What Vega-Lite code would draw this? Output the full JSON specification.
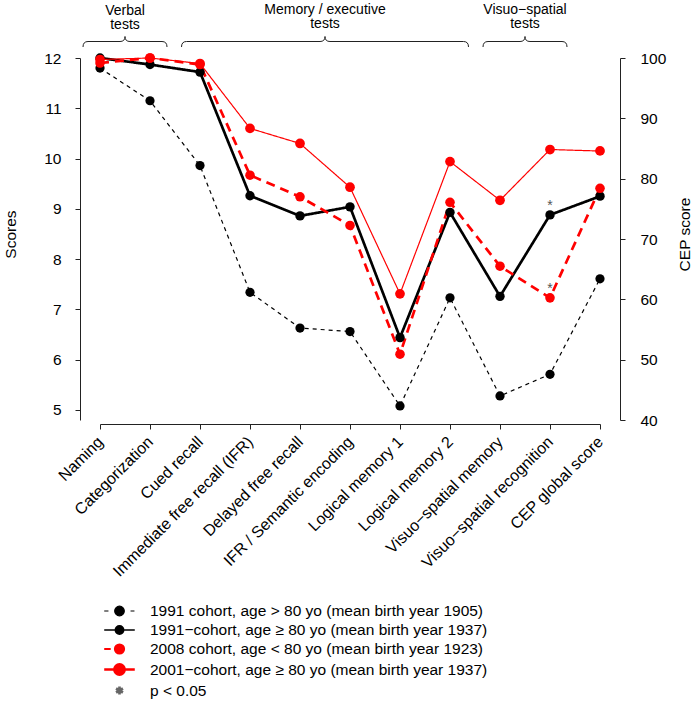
{
  "$schema": "https://vega.github.io/schema/vega-lite/v6.json",
  "width": 500,
  "height": 362,
  "autosize": {"type": "none"},
  "padding": {"left": 100, "top": 58, "right": 96, "bottom": 285},
  "config": {
    "font": "Liberation Sans",
    "view": {"stroke": null},
    "axis": {
      "grid": false, "domainColor": "#222", "tickColor": "#222", "labelColor": "#000", "titleColor": "#000",
      "labelFontSize": 15.5, "titleFontSize": 15.5, "titleFontWeight": "normal", "tickSize": 5,
      "domainWidth": 1, "tickWidth": 1, "labelFont": "Liberation Sans", "titleFont": "Liberation Sans"
    },
    "legend": {
      "orient": "none", "legendX": 10, "legendY": 544, "direction": "vertical",
      "symbolSize": 256, "labelFontSize": 15.5, "labelFont": "Liberation Sans", "labelColor": "#000",
      "labelOffset": 21, "rowPadding": 1, "padding": 0, "labelLimit": 600, "symbolOpacity": 1
    }
  },
  "datasets": {
    "scores": [
      {"test": "Naming", "series": "1991 cohort, age > 80 yo (mean birth year 1905)", "score": 11.80},
      {"test": "Categorization", "series": "1991 cohort, age > 80 yo (mean birth year 1905)", "score": 11.15},
      {"test": "Cued recall", "series": "1991 cohort, age > 80 yo (mean birth year 1905)", "score": 9.86},
      {"test": "Immediate free recall (IFR)", "series": "1991 cohort, age > 80 yo (mean birth year 1905)", "score": 7.34},
      {"test": "Delayed free recall", "series": "1991 cohort, age > 80 yo (mean birth year 1905)", "score": 6.63},
      {"test": "IFR / Semantic encoding", "series": "1991 cohort, age > 80 yo (mean birth year 1905)", "score": 6.56},
      {"test": "Logical memory 1", "series": "1991 cohort, age > 80 yo (mean birth year 1905)", "score": 5.08},
      {"test": "Logical memory 2", "series": "1991 cohort, age > 80 yo (mean birth year 1905)", "score": 7.23},
      {"test": "Visuo−spatial memory", "series": "1991 cohort, age > 80 yo (mean birth year 1905)", "score": 5.28},
      {"test": "Visuo−spatial recognition", "series": "1991 cohort, age > 80 yo (mean birth year 1905)", "score": 5.71},
      {"test": "CEP global score", "series": "1991 cohort, age > 80 yo (mean birth year 1905)", "score": 7.61, "cep": 63.4},

      {"test": "Naming", "series": "1991−cohort, age ≥ 80 yo (mean birth year 1937)", "score": 12.00},
      {"test": "Categorization", "series": "1991−cohort, age ≥ 80 yo (mean birth year 1937)", "score": 11.87},
      {"test": "Cued recall", "series": "1991−cohort, age ≥ 80 yo (mean birth year 1937)", "score": 11.72},
      {"test": "Immediate free recall (IFR)", "series": "1991−cohort, age ≥ 80 yo (mean birth year 1937)", "score": 9.26},
      {"test": "Delayed free recall", "series": "1991−cohort, age ≥ 80 yo (mean birth year 1937)", "score": 8.86},
      {"test": "IFR / Semantic encoding", "series": "1991−cohort, age ≥ 80 yo (mean birth year 1937)", "score": 9.04},
      {"test": "Logical memory 1", "series": "1991−cohort, age ≥ 80 yo (mean birth year 1937)", "score": 6.44},
      {"test": "Logical memory 2", "series": "1991−cohort, age ≥ 80 yo (mean birth year 1937)", "score": 8.93},
      {"test": "Visuo−spatial memory", "series": "1991−cohort, age ≥ 80 yo (mean birth year 1937)", "score": 7.26},
      {"test": "Visuo−spatial recognition", "series": "1991−cohort, age ≥ 80 yo (mean birth year 1937)", "score": 8.88},
      {"test": "CEP global score", "series": "1991−cohort, age ≥ 80 yo (mean birth year 1937)", "score": 9.25, "cep": 77.1},

      {"test": "Naming", "series": "2008 cohort, age < 80 yo (mean birth year 1923)", "score": 11.90},
      {"test": "Categorization", "series": "2008 cohort, age < 80 yo (mean birth year 1923)", "score": 12.00},
      {"test": "Cued recall", "series": "2008 cohort, age < 80 yo (mean birth year 1923)", "score": 11.87},
      {"test": "Immediate free recall (IFR)", "series": "2008 cohort, age < 80 yo (mean birth year 1923)", "score": 9.67},
      {"test": "Delayed free recall", "series": "2008 cohort, age < 80 yo (mean birth year 1923)", "score": 9.24},
      {"test": "IFR / Semantic encoding", "series": "2008 cohort, age < 80 yo (mean birth year 1923)", "score": 8.67},
      {"test": "Logical memory 1", "series": "2008 cohort, age < 80 yo (mean birth year 1923)", "score": 6.11},
      {"test": "Logical memory 2", "series": "2008 cohort, age < 80 yo (mean birth year 1923)", "score": 9.13},
      {"test": "Visuo−spatial memory", "series": "2008 cohort, age < 80 yo (mean birth year 1923)", "score": 7.86},
      {"test": "Visuo−spatial recognition", "series": "2008 cohort, age < 80 yo (mean birth year 1923)", "score": 7.23},
      {"test": "CEP global score", "series": "2008 cohort, age < 80 yo (mean birth year 1923)", "score": 9.41, "cep": 78.4},

      {"test": "Naming", "series": "2001−cohort, age ≥ 80 yo (mean birth year 1937)", "score": 11.97},
      {"test": "Categorization", "series": "2001−cohort, age ≥ 80 yo (mean birth year 1937)", "score": 12.00},
      {"test": "Cued recall", "series": "2001−cohort, age ≥ 80 yo (mean birth year 1937)", "score": 11.89},
      {"test": "Immediate free recall (IFR)", "series": "2001−cohort, age ≥ 80 yo (mean birth year 1937)", "score": 10.60},
      {"test": "Delayed free recall", "series": "2001−cohort, age ≥ 80 yo (mean birth year 1937)", "score": 10.30},
      {"test": "IFR / Semantic encoding", "series": "2001−cohort, age ≥ 80 yo (mean birth year 1937)", "score": 9.43},
      {"test": "Logical memory 1", "series": "2001−cohort, age ≥ 80 yo (mean birth year 1937)", "score": 7.31},
      {"test": "Logical memory 2", "series": "2001−cohort, age ≥ 80 yo (mean birth year 1937)", "score": 9.94},
      {"test": "Visuo−spatial memory", "series": "2001−cohort, age ≥ 80 yo (mean birth year 1937)", "score": 9.17},
      {"test": "Visuo−spatial recognition", "series": "2001−cohort, age ≥ 80 yo (mean birth year 1937)", "score": 10.18},
      {"test": "CEP global score", "series": "2001−cohort, age ≥ 80 yo (mean birth year 1937)", "score": 10.15, "cep": 84.6},

      {"test": "Visuo−spatial recognition", "series": "p < 0.05", "score": 8.88},
      {"test": "Visuo−spatial recognition", "series": "p < 0.05", "score": 7.23}
    ],
    "braces": [
      {"group": "Verbal\ntests", "pos": 0.5, "ypos": 12.328, "labely": 12.86},
      {"group": "Memory / executive\ntests", "pos": 4.5, "ypos": 12.328, "labely": 12.88},
      {"group": "Visuo−spatial\ntests", "pos": 8.5, "ypos": 12.328, "labely": 12.88}
    ]
  },
  "layer": [
    {
      "data": {"name": "scores"},
      "encoding": {
        "x": {
          "field": "test", "type": "nominal",
          "scale": {"type": "point", "padding": 0, "domain": ["Naming", "Categorization", "Cued recall", "Immediate free recall (IFR)", "Delayed free recall", "IFR / Semantic encoding", "Logical memory 1", "Logical memory 2", "Visuo−spatial memory", "Visuo−spatial recognition", "CEP global score"]},
          "axis": {"title": null, "labelAngle": -45, "labelAlign": "right", "labelBaseline": "middle", "labelPadding": 10, "labelFontSize": 16, "offset": 4, "labelLimit": 400}
        },
        "y": {
          "field": "score", "type": "quantitative",
          "scale": {"domain": [4.801, 12], "nice": false, "zero": false},
          "axis": {"title": "Scores", "values": [5, 6, 7, 8, 9, 10, 11, 12], "offset": 20, "labelPadding": 14, "titlePadding": 25.5, "titleAngle": 270, "titleBaseline": "bottom", "titleY": 176}
        }
      },
      "layer": [
        {
          "transform": [{"filter": {"field": "series", "oneOf": ["1991−cohort, age ≥ 80 yo (mean birth year 1937)", "2008 cohort, age < 80 yo (mean birth year 1923)"]}}],
          "mark": {"type": "line", "strokeWidth": 2.7},
          "encoding": {
            "color": {"field": "series", "type": "nominal", "legend": null,
              "scale": {"domain": ["1991 cohort, age > 80 yo (mean birth year 1905)", "1991−cohort, age ≥ 80 yo (mean birth year 1937)", "2008 cohort, age < 80 yo (mean birth year 1923)", "2001−cohort, age ≥ 80 yo (mean birth year 1937)"], "range": ["#000000", "#000000", "#ff0000", "#ff0000"]}},
            "strokeDash": {"field": "series", "type": "nominal", "legend": null,
              "scale": {"domain": ["1991 cohort, age > 80 yo (mean birth year 1905)", "1991−cohort, age ≥ 80 yo (mean birth year 1937)", "2008 cohort, age < 80 yo (mean birth year 1923)", "2001−cohort, age ≥ 80 yo (mean birth year 1937)"], "range": [[4, 4], [1, 0], [9, 6], [1, 0]]}}
          }
        },
        {
          "transform": [{"filter": {"field": "series", "oneOf": ["1991 cohort, age > 80 yo (mean birth year 1905)", "2001−cohort, age ≥ 80 yo (mean birth year 1937)"]}}],
          "mark": {"type": "line", "strokeWidth": 1.2},
          "encoding": {
            "color": {"field": "series", "type": "nominal", "legend": null},
            "strokeDash": {"field": "series", "type": "nominal", "legend": null}
          }
        },
        {
          "transform": [{"filter": "datum.series !== 'p < 0.05' && datum.test !== 'CEP global score'"}],
          "mark": {"type": "point", "filled": true, "opacity": 1},
          "encoding": {
            "color": {"field": "series", "type": "nominal", "legend": null},
            "size": {"field": "series", "type": "nominal", "legend": null,
              "scale": {"domain": ["1991 cohort, age > 80 yo (mean birth year 1905)", "1991−cohort, age ≥ 80 yo (mean birth year 1937)", "2008 cohort, age < 80 yo (mean birth year 1923)", "2001−cohort, age ≥ 80 yo (mean birth year 1937)"], "range": [85, 95, 110, 110]}}
          }
        },
        {
          "transform": [{"filter": "datum.series === 'p < 0.05'"}],
          "mark": {"type": "text", "text": "*", "color": "#555555", "fontSize": 14, "baseline": "alphabetic", "dy": -5}
        },
        {
          "mark": {"type": "point", "filled": true, "opacity": 0, "size": 256},
          "encoding": {
            "shape": {"field": "series", "type": "nominal", "legend": {"title": null},
              "scale": {"domain": ["1991 cohort, age > 80 yo (mean birth year 1905)", "1991−cohort, age ≥ 80 yo (mean birth year 1937)", "2008 cohort, age < 80 yo (mean birth year 1923)", "2001−cohort, age ≥ 80 yo (mean birth year 1937)", "p < 0.05"],
                "range": [
                  "M-1.91,0H-1.38M1.38,0H1.87M-0.6,0A0.6,0.6,0,1,0,0.6,0A0.6,0.6,0,1,0,-0.6,0Z",
                  "M-1.91,0H1.91M-0.52,0A0.52,0.52,0,1,0,0.52,0A0.52,0.52,0,1,0,-0.52,0Z",
                  "M-1.91,0H-1.1M-0.58,0A0.58,0.58,0,1,0,0.58,0A0.58,0.58,0,1,0,-0.58,0Z",
                  "M-1.91,0H1.91M-0.66,0A0.66,0.66,0,1,0,0.66,0A0.66,0.66,0,1,0,-0.66,0Z",
                  "M0,-0.5V0.5M-0.43,-0.25L0.43,0.25M-0.43,0.25L0.43,-0.25"
                ]}},
            "fill": {"field": "series", "type": "nominal", "legend": {"title": null},
              "scale": {"domain": ["1991 cohort, age > 80 yo (mean birth year 1905)", "1991−cohort, age ≥ 80 yo (mean birth year 1937)", "2008 cohort, age < 80 yo (mean birth year 1923)", "2001−cohort, age ≥ 80 yo (mean birth year 1937)", "p < 0.05"], "range": ["#000000", "#000000", "#ff0000", "#ff0000", "#666666"]}},
            "stroke": {"field": "series", "type": "nominal", "legend": {"title": null},
              "scale": {"domain": ["1991 cohort, age > 80 yo (mean birth year 1905)", "1991−cohort, age ≥ 80 yo (mean birth year 1937)", "2008 cohort, age < 80 yo (mean birth year 1923)", "2001−cohort, age ≥ 80 yo (mean birth year 1937)", "p < 0.05"], "range": ["#000000", "#000000", "#ff0000", "#ff0000", "#666666"]}},
            "strokeWidth": {"field": "series", "type": "nominal", "legend": {"title": null},
              "scale": {"domain": ["1991 cohort, age > 80 yo (mean birth year 1905)", "1991−cohort, age ≥ 80 yo (mean birth year 1937)", "2008 cohort, age < 80 yo (mean birth year 1923)", "2001−cohort, age ≥ 80 yo (mean birth year 1937)", "p < 0.05"], "range": [1.2, 2.7, 2.7, 1.2, 0.7]}}
          }
        }
      ]
    },
    {
      "data": {"name": "scores"},
      "transform": [{"filter": "datum.test === 'CEP global score' && datum.series !== 'p < 0.05'"}],
      "mark": {"type": "point", "filled": true, "opacity": 1},
      "encoding": {
        "x": {
          "field": "test", "type": "nominal", "axis": null,
          "scale": {"type": "point", "padding": 0, "domain": ["Naming", "Categorization", "Cued recall", "Immediate free recall (IFR)", "Delayed free recall", "IFR / Semantic encoding", "Logical memory 1", "Logical memory 2", "Visuo−spatial memory", "Visuo−spatial recognition", "CEP global score"]}
        },
        "y": {
          "field": "cep", "type": "quantitative",
          "scale": {"domain": [40, 100], "nice": false, "zero": false},
          "axis": {"orient": "right", "title": "CEP score", "values": [40, 50, 60, 70, 80, 90, 100], "offset": 20, "labelPadding": 15, "titlePadding": 12, "titleAngle": 270, "titleBaseline": "top", "titleY": 176}
        },
        "color": {"field": "series", "type": "nominal", "legend": null},
        "size": {"field": "series", "type": "nominal", "legend": null,
          "scale": {"domain": ["1991 cohort, age > 80 yo (mean birth year 1905)", "1991−cohort, age ≥ 80 yo (mean birth year 1937)", "2008 cohort, age < 80 yo (mean birth year 1923)", "2001−cohort, age ≥ 80 yo (mean birth year 1937)"], "range": [85, 95, 110, 110]}}
      }
    },
    {
      "data": {"name": "braces"},
      "encoding": {
        "x": {"field": "pos", "type": "quantitative", "axis": null, "scale": {"domain": [0, 10], "nice": false, "zero": false}},
        "y": {"field": "ypos", "type": "quantitative", "axis": null, "scale": {"domain": [4.801, 12], "nice": false, "zero": false}}
      },
      "layer": [
        {
          "transform": [{"filter": "datum.pos === 0.5 || datum.pos === 8.5"}],
          "mark": {"type": "point", "filled": false, "size": 400, "stroke": "#222222", "strokeWidth": 1, "opacity": 1,
            "shape": "M-4.2,0.55Q-4.2,0,-3.7,0L-0.5,0Q0,0,0,-0.5Q0,0,0.5,0L3.7,0Q4.2,0,4.2,0.55"}
        },
        {
          "transform": [{"filter": "datum.pos === 4.5"}],
          "mark": {"type": "point", "filled": false, "size": 400, "stroke": "#222222", "strokeWidth": 1, "opacity": 1,
            "shape": "M-14.35,0.55Q-14.35,0,-13.85,0L-0.5,0Q0,0,0,-0.5Q0,0,0.5,0L13.85,0Q14.35,0,14.35,0.55"}
        },
        {
          "mark": {"type": "text", "fontSize": 14, "lineBreak": "\n", "lineHeight": 14.5, "align": "center", "baseline": "alphabetic", "color": "#000"},
          "encoding": {
            "y": {"field": "labely", "type": "quantitative"},
            "text": {"field": "group"}
          }
        }
      ]
    }
  ],
  "resolve": {"scale": {"x": "independent", "y": "independent"}}
}
